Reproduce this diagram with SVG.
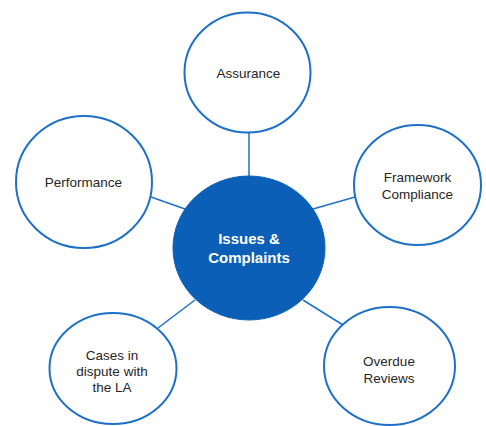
<svg xmlns="http://www.w3.org/2000/svg" width="486" height="426" viewBox="0 0 486 426">
  <style>
    .ring { fill: #ffffff; stroke: #1d6fc8; stroke-width: 2; }
    .hub { fill: #0b5fb6; stroke: #0b5fb6; stroke-width: 1; }
    .link { stroke: #1d6fc8; stroke-width: 1.5; fill: none; }
    .lbl { font-family: "Liberation Sans", Arial, sans-serif; font-size: 13.5px; fill: #262626; text-anchor: middle; }
    .hub-lbl { font-family: "Liberation Sans", Arial, sans-serif; font-size: 15px; font-weight: bold; fill: #ffffff; text-anchor: middle; }
  </style>
  <rect width="486" height="426" fill="#ffffff"/>

  <!-- spokes from the hub to each surrounding topic -->
  <g id="connectors">
    <line class="link" x1="249" y1="132" x2="249" y2="177"/>
    <line class="link" x1="151" y1="197" x2="185" y2="209"/>
    <line class="link" x1="313" y1="209" x2="355" y2="197"/>
    <line class="link" x1="158" y1="328" x2="195" y2="300"/>
    <line class="link" x1="303" y1="300" x2="343" y2="325"/>
  </g>

  <g id="hub">
    <ellipse class="hub" cx="249" cy="248" rx="76" ry="72"/>
    <text class="hub-lbl" x="249" y="244">Issues &amp;</text>
    <text class="hub-lbl" x="249" y="263">Complaints</text>
  </g>

  <g id="assurance">
    <ellipse class="ring" cx="247.5" cy="72.5" rx="63" ry="60"/>
    <text class="lbl" x="248.5" y="78">Assurance</text>
  </g>

  <g id="performance">
    <ellipse class="ring" cx="84" cy="182" rx="68" ry="66"/>
    <text class="lbl" x="83.5" y="187">Performance</text>
  </g>

  <g id="framework-compliance">
    <ellipse class="ring" cx="417.5" cy="185" rx="63.5" ry="60"/>
    <text class="lbl" x="417.5" y="182">Framework</text>
    <text class="lbl" x="417.5" y="198.5">Compliance</text>
  </g>

  <g id="cases-in-dispute">
    <ellipse class="ring" cx="113" cy="368.5" rx="63.5" ry="55.5"/>
    <text class="lbl" x="112" y="360">Cases in</text>
    <text class="lbl" x="112" y="376">dispute with</text>
    <text class="lbl" x="112" y="392">the LA</text>
  </g>

  <g id="overdue-reviews">
    <ellipse class="ring" cx="389.5" cy="366" rx="65.5" ry="59"/>
    <text class="lbl" x="389" y="366">Overdue</text>
    <text class="lbl" x="389" y="383">Reviews</text>
  </g>
</svg>
